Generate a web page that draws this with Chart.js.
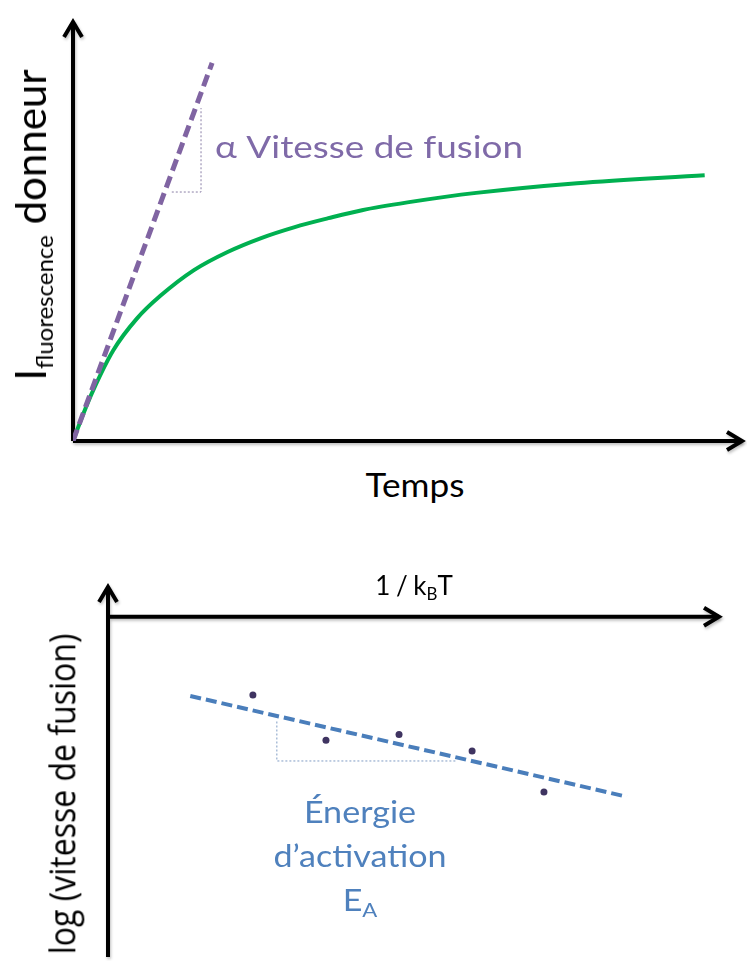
<!DOCTYPE html>
<html lang="fr">
<head>
<meta charset="UTF-8">
<title>Vitesse de fusion</title>
<script src="https://cdn.jsdelivr.net/npm/chart.js"></script>
<style>
  body { margin: 0; width: 747px; height: 961px; position: relative; overflow: hidden; background: #fff; font-family: Lato, sans-serif; }
  canvas { position: absolute; left: 0; }
  #courbe { top: 0; }
  #arrhenius { top: 560px; }
  .txt { position: absolute; white-space: nowrap; line-height: 1; }
  .centre { text-align: center; }
  .ind { position: relative; }
</style>
</head>
<body>
<canvas id="courbe" width="747" height="460"></canvas>
<canvas id="arrhenius" width="747" height="401"></canvas>

<div class="txt" style="left:30px; top:225px; font-size:42px; transform:translate(-50%,-50%) rotate(-90deg);">I<span class="ind" style="font-size:24px; top:0.3em;">fluorescence</span> donneur</div>
<div class="txt" style="left:215px; top:131px; font-size:30px; color:#7f6aa8; transform-origin:left center; transform:scaleX(1.23);">&alpha; Vitesse de fusion</div>
<div class="txt centre" style="left:415px; top:469px; font-size:32px; transform:translateX(-50%) scaleX(1.1);">Temps</div>

<div class="txt centre" style="left:414px; top:572px; font-size:26px; word-spacing:-1px; transform:translateX(-50%);">1 / k<span class="ind" style="font-size:0.65em; top:0.3em;">B</span>T</div>
<div class="txt" style="left:62px; top:794px; font-size:32px; font-family:'Open Sans', sans-serif; transform:translate(-50%,-50%) rotate(-90deg) scale(1,1.12);">log (vitesse de fusion)</div>
<div class="txt centre" style="left:360px; top:789px; font-size:31px; line-height:44px; color:#4f81bd; transform:translateX(-50%) scaleX(1.1);">Énergie<br>d’activation<br>E<span class="ind" style="font-size:0.65em; top:0.3em;">A</span></div>

<script>
// Fluorescence du donneur au cours du temps
var temps = [0, 1.5, 3, 6, 9.5, 13, 18, 23, 28, 33, 38, 43, 50, 60, 75, 94];
var fluorescence = [0, 6.3, 12.0, 21.5, 29.0, 34.4, 40.5, 44.8, 48.1, 50.7, 52.8, 54.7, 56.6, 58.8, 61.1, 63.0];
// tangente à l'origine (pente = vitesse de fusion)
var tangenteX = [0, 20.7];
var tangenteY = [0, 89.6];
var penteX = [14.7, 19.05, 19.05];
var penteY = [59.0, 59.0, 78.9];

// Arrhenius : log(vitesse) contre 1/kBT
var invKT = [2.36, 3.55, 4.74, 5.93, 7.10];
var logVitesse = [-2.30, -3.63, -3.46, -3.95, -5.15];
var ajustX = [1.34, 8.45];
var ajustY = [-2.33, -5.29];
var triangleX = [2.75, 2.75, 5.68];
var triangleY = [-3.08, -4.24, -4.24];

function points(xs, ys) {
    return xs.map(function(x, i) { return { x: x, y: ys[i] }; });
}

function fleche(ctx, x, y, angle) {
    ctx.save();
    ctx.translate(x, y);
    ctx.rotate(angle);
    ctx.beginPath();
    ctx.moveTo(-15, -9);
    ctx.lineTo(0, 0);
    ctx.lineTo(-15, 9);
    ctx.stroke();
    ctx.restore();
}

// axes noirs avec flèches, passant par (0,0)
var axesFleches = {
    id: 'axesFleches',
    beforeDatasetsDraw: function(chart) {
        var ctx = chart.ctx, xs = chart.scales.x, ys = chart.scales.y;
        var x0 = xs.getPixelForValue(0), y0 = ys.getPixelForValue(0);
        var droite = chart.chartArea.right - 3, haut = chart.chartArea.top + 3, bas = chart.chartArea.bottom;
        ctx.save();
        ctx.strokeStyle = '#000';
        ctx.lineWidth = 4;
        ctx.lineJoin = 'miter';
        ctx.shadowColor = 'rgba(0,0,0,0.25)';
        ctx.shadowBlur = 3;
        ctx.shadowOffsetX = 1;
        ctx.shadowOffsetY = 2;
        ctx.beginPath();
        ctx.moveTo(x0, y0);
        ctx.lineTo(droite, y0);
        ctx.moveTo(x0, bas);
        ctx.lineTo(x0, haut);
        ctx.stroke();
        fleche(ctx, droite, y0, 0);
        fleche(ctx, x0, haut, -Math.PI / 2);
        ctx.restore();
    }
};

var echellesCachees = function(xmin, xmax, ymin, ymax) {
    return {
        x: { type: 'linear', min: xmin, max: xmax, display: false },
        y: { type: 'linear', min: ymin, max: ymax, display: false }
    };
};

new Chart(document.getElementById('courbe'), {
    type: 'scatter',
    data: {
        datasets: [{
            data: points(tangenteX, tangenteY),
            showLine: true,
            borderColor: '#8064a2',
            borderWidth: 5,
            borderDash: [12, 6],
            pointRadius: 0
        }, {
            data: points(penteX, penteY),
            showLine: true,
            borderColor: '#8a7fa6',
            borderWidth: 1,
            borderDash: [2, 2],
            pointRadius: 0
        }, {
            data: points(temps, fluorescence),
            showLine: true,
            borderColor: '#00b050',
            borderWidth: 4,
            cubicInterpolationMode: 'monotone',
            pointRadius: 0
        }]
    },
    options: {
        responsive: false,
        animation: false,
        layout: { padding: { left: 73, right: 2, top: 19, bottom: 19 } },
        scales: echellesCachees(0, 100, 0, 100),
        plugins: { legend: { display: false }, tooltip: { enabled: false } }
    },
    plugins: [axesFleches]
});

new Chart(document.getElementById('arrhenius'), {
    type: 'scatter',
    data: {
        datasets: [{
            data: points(triangleX, triangleY),
            showLine: true,
            borderColor: '#7f9cc4',
            borderWidth: 1,
            borderDash: [2, 2],
            pointRadius: 0
        }, {
            data: points(ajustX, ajustY),
            showLine: true,
            borderColor: '#4a7ebb',
            borderWidth: 4,
            borderDash: [11, 5],
            pointRadius: 0
        }, {
            data: points(invKT, logVitesse),
            backgroundColor: '#3f3461',
            borderWidth: 0,
            pointRadius: 3.5
        }]
    },
    options: {
        responsive: false,
        animation: false,
        layout: { padding: { left: 108, right: 25, top: 24, bottom: 0 } },
        scales: echellesCachees(0, 10, -10, 0.96),
        plugins: { legend: { display: false }, tooltip: { enabled: false } }
    },
    plugins: [axesFleches]
});
</script>
</body>
</html>
